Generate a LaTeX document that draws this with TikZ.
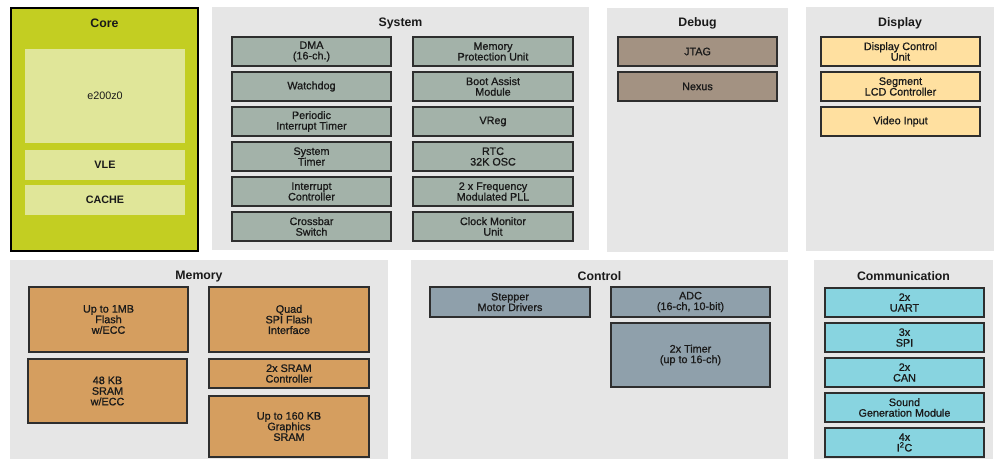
\documentclass[tikz,border=0pt]{standalone}
\usepackage{fontspec}
\setmainfont{Liberation Sans}
\newfontfamily\medfont{Liberation Sans}[BoldFont=Liberation Sans, BoldFeatures={FakeBold=0.9}]
\definecolor{panelbg}{HTML}{E6E6E6}
\definecolor{corefill}{HTML}{C3CE22}
\definecolor{coreinner}{HTML}{E0E699}
\definecolor{sysfill}{HTML}{A3B2A9}
\definecolor{dbgfill}{HTML}{A39282}
\definecolor{dispfill}{HTML}{FFE0A0}
\definecolor{memfill}{HTML}{D59E5F}
\definecolor{ctlfill}{HTML}{8FA0AB}
\definecolor{comfill}{HTML}{88D4E0}
\definecolor{edge}{HTML}{2E2E2E}
\definecolor{txt}{HTML}{1A1A1A}
\tikzset{
  panel/.style={fill=panelbg, draw=none, inner sep=0pt, outer sep=0pt},
  ptitle/.style={font=\fontsize{12.3}{14}\selectfont\bfseries, text=txt, inner sep=0pt},
  blk/.style={draw=edge, line width=1.3pt, inner sep=0pt, outer sep=0pt, align=center,
     text=txt, font=\fontsize{10.8}{10.6}\selectfont\medfont\bfseries},
  cin/.style={fill=coreinner, draw=none, inner sep=0pt, outer sep=0pt, align=center,
     text=txt, font=\fontsize{10.8}{10.6}\selectfont},
}
\newcommand\bx[7]{\node[#6, minimum width=#4pt-#2pt, minimum height=#5pt-#3pt] (#1) at ({(#2+#4)/2},{(#3+#5)/2}) {#7};}
\begin{document}
\begin{tikzpicture}[x=1pt,y=-1pt]
\useasboundingbox (0,0) rectangle (997,459);
% panels
\bx{core}{11}{8}{198}{251}{panel, fill=corefill, draw=black, line width=2pt}{}
\bx{system}{212}{7}{589}{250}{panel}{}
\bx{debug}{607}{8}{788}{252}{panel}{}
\bx{display}{806}{7}{994}{251}{panel}{}
\bx{memory}{10}{260}{388}{459}{panel}{}
\bx{control}{411}{260}{788}{459}{panel}{}
\bx{comm}{814}{260}{993}{459}{panel}{}
% titles
\node[ptitle] (tcore) at (104.5,23) {Core};
\node[ptitle] (tsys) at (400.5,23) {System};
\node[ptitle] (tdbg) at (697.5,23) {Debug};
\node[ptitle] (tdisp) at (900,23) {Display};
\node[ptitle] (tmem) at (199,277) {Memory};
\node[ptitle] (tctl) at (599.5,276) {Control};
\node[ptitle] (tcom) at (903.5,276) {Communication};
% core
\bx{e200}{25}{49}{185}{143}{cin}{e200z0}
\bx{vle}{25}{150}{185}{180}{cin, font=\fontsize{10.8}{10.6}\selectfont\bfseries}{VLE}
\bx{cache}{25}{185}{185}{215}{cin, font=\fontsize{10.8}{10.6}\selectfont\bfseries}{CACHE}
% system
\bx{dma}{232}{37}{391}{66}{blk, fill=sysfill}{DMA\\(16-ch.)}
\bx{wdog}{232}{72}{391}{101}{blk, fill=sysfill}{Watchdog}
\bx{pit}{232}{107}{391}{136}{blk, fill=sysfill}{Periodic\\Interrupt Timer}
\bx{stm}{232}{142}{391}{171}{blk, fill=sysfill}{System\\Timer}
\bx{intc}{232}{177}{391}{206}{blk, fill=sysfill}{Interrupt\\Controller}
\bx{xbar}{232}{212}{391}{241}{blk, fill=sysfill}{Crossbar\\Switch}
\bx{mpu}{413}{37}{573}{66}{blk, fill=sysfill}{Memory\\Protection Unit}
\bx{bam}{413}{72}{573}{101}{blk, fill=sysfill}{Boot Assist\\Module}
\bx{vreg}{413}{107}{573}{136}{blk, fill=sysfill}{VReg}
\bx{rtc}{413}{142}{573}{171}{blk, fill=sysfill}{RTC\\32K OSC}
\bx{pll}{413}{177}{573}{206}{blk, fill=sysfill}{2 x Frequency\\Modulated PLL}
\bx{cmu}{413}{212}{573}{241}{blk, fill=sysfill}{Clock Monitor\\Unit}
% debug
\bx{jtag}{618}{37}{777}{66}{blk, fill=dbgfill}{JTAG}
\bx{nexus}{618}{72}{777}{101}{blk, fill=dbgfill}{Nexus}
% display
\bx{dcu}{821}{37}{980}{66}{blk, fill=dispfill}{Display Control\\Unit}
\bx{lcd}{821}{72}{980}{101}{blk, fill=dispfill}{Segment\\LCD Controller}
\bx{vin}{821}{107}{980}{136}{blk, fill=dispfill}{Video Input}
% memory
\bx{flash}{29}{287}{188}{352}{blk, fill=memfill}{Up to 1MB\\Flash\\w/ECC}
\bx{sram}{28}{359}{187}{423}{blk, fill=memfill}{48 KB\\SRAM\\w/ECC}
\bx{qspi}{209}{287}{369}{352}{blk, fill=memfill}{Quad\\SPI Flash\\Interface}
\bx{sramc}{209}{359}{369}{388}{blk, fill=memfill}{2x SRAM\\Controller}
\bx{gsram}{209}{396}{369}{457}{blk, fill=memfill}{Up to 160 KB\\Graphics\\SRAM}
% control
\bx{smd}{430}{287}{590}{317}{blk, fill=ctlfill}{Stepper\\Motor Drivers}
\bx{adc}{611}{287}{770}{317}{blk, fill=ctlfill}{ADC\\(16-ch, 10-bit)}
\bx{tmr}{611}{323}{770}{387}{blk, fill=ctlfill}{2x Timer\\(up to 16-ch)}
% communication
\bx{uart}{825}{288}{984}{317}{blk, fill=comfill}{2x\\UART}
\bx{spi}{825}{323}{984}{352}{blk, fill=comfill}{3x\\SPI}
\bx{can}{825}{358}{984}{387}{blk, fill=comfill}{2x\\CAN}
\bx{sgm}{825}{393}{984}{422}{blk, fill=comfill}{Sound\\Generation Module}
\bx{iic}{825}{428}{984}{457}{blk, fill=comfill}{4x\\I\textsuperscript{2}C}
\end{tikzpicture}
\end{document}
